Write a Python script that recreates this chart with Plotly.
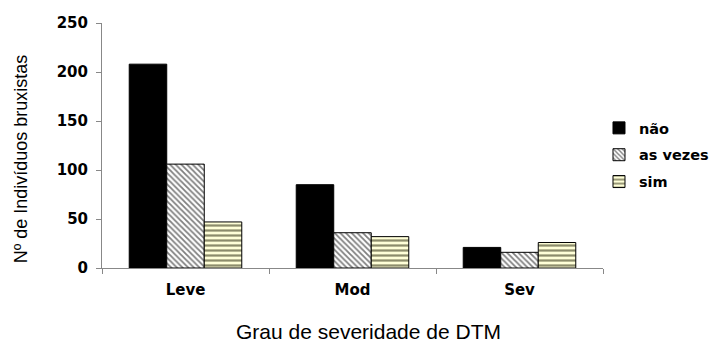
import plotly.graph_objects as go

categories = ["Leve", "Mod", "Sev"]
nao = [208, 85, 21]
as_vezes = [106, 36, 16]
sim = [47, 32, 26]
y_ticks = [0, 50, 100, 150, 200, 250]

TICKFONT = dict(family="DejaVu Sans, Arial", size=15, weight="bold", color="black")

fig = go.Figure()
fig.add_trace(go.Bar(name="não", x=categories, y=nao, legendgroup="a",
                     marker=dict(color="black", line=dict(color="black", width=1))))
fig.add_trace(go.Bar(name="as vezes", x=categories, y=as_vezes, legendgroup="b",
                     marker=dict(color="white", line=dict(color="black", width=1),
                                 pattern=dict(shape="\\", fgcolor="black", bgcolor="white",
                                              size=4, solidity=0.45))))
fig.add_trace(go.Bar(name="sim", x=categories, y=sim, legendgroup="c",
                     marker=dict(color="#ffffd8", line=dict(color="black", width=1),
                                 pattern=dict(shape="-", fgcolor="#1a1a00", bgcolor="#ffffd8",
                                              size=5, solidity=0.45))))

fig.update_layout(
    width=722, height=343,
    margin=dict(l=94, r=127, t=15, b=83, autoexpand=False),
    paper_bgcolor="white", plot_bgcolor="white",
    barmode="group", bargap=0.326, bargroupgap=0,
    font=dict(family="Liberation Sans, Arial, sans-serif", color="black"),
    showlegend=True,
    legend=dict(x=0.992, y=0.637, xanchor="left", yanchor="top",
                font=dict(family="DejaVu Sans, Arial", size=14.5, weight="bold", color="black"),
                itemwidth=30, tracegroupgap=5),
    xaxis=dict(showline=True, linecolor="#888888", linewidth=1, automargin=False,
               ticks="outside", tickson="boundaries", ticklen=5, tickcolor="#888888",
               tickfont=TICKFONT, ticklabelstandoff=8),
    yaxis=dict(range=[0, 250], tickvals=y_ticks, showline=True, linecolor="#888888",
               linewidth=1, ticks="outside", ticklen=5, tickcolor="#888888",
               showgrid=False, zeroline=False, automargin=False,
               tickfont=TICKFONT, ticklabelstandoff=5),
    annotations=[
        dict(text="Grau de severidade de DTM", xref="paper", yref="paper",
             x=0.532, y=-0.261, xanchor="center", yanchor="middle", showarrow=False,
             font=dict(size=21)),
        dict(text="Nº de Indivíduos bruxistas", xref="paper", yref="paper",
             x=-0.160, y=0.447, xanchor="center", yanchor="middle", showarrow=False,
             textangle=-90, font=dict(size=18)),
    ],
)

fig.write_html("out.html")
